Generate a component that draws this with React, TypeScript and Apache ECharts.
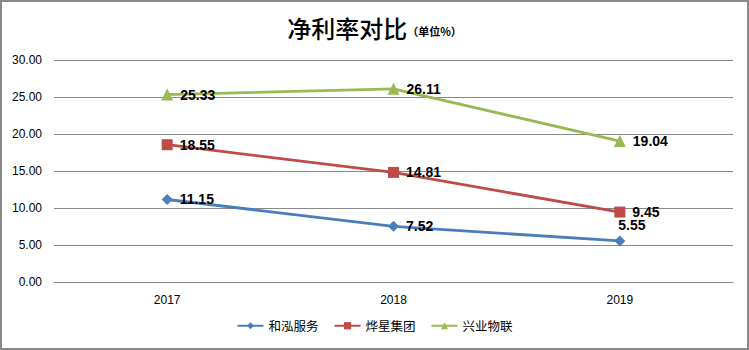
import React, { useEffect, useRef } from "react";
import * as echarts from "echarts";

const categories = ["2017", "2018", "2019"];
const seriesNames = ["和泓服务", "烨星集团", "兴业物联"];
const heHong = [11.15, 7.52, 5.55];
const yeXing = [18.55, 14.81, 9.45];
const xingYe = [25.33, 26.11, 19.04];
const yTicks = [0, 5, 10, 15, 20, 25, 30];

export default function App() {
  const ref = useRef<HTMLDivElement>(null);
  useEffect(() => {
    document.body.style.margin = "0";
    const chart = echarts.init(ref.current!, undefined, { renderer: "svg" });
    const labelBase = {
      show: true,
      position: "right" as const,
      distance: 7,
      color: "#000",
      fontWeight: "bold" as const,
      fontSize: 14,
      fontFamily: "Liberation Sans, Arial, sans-serif",
      formatter: (p: any) => (typeof p.value === "number" ? p.value : Number(p.value)).toFixed(2),
    };
    chart.setOption({
      animation: false,
      backgroundColor: "#fff",
      title: {
        text: "{a|净利率对比}{b|（单位%）}",
        left: "center",
        top: 8,
        textStyle: {
          rich: {
            a: { fontSize: 24, color: "#000", fontFamily: "Noto Sans CJK SC", fontWeight: 500 },
            b: { fontSize: 11, color: "#000", fontFamily: "Noto Sans CJK SC", fontWeight: "bold", padding: [8, 0, 0, 0] },
          },
        },
      },
      legend: {
        bottom: 11,
        left: "center",
        itemWidth: 26,
        itemHeight: 9,
        itemGap: 15,
        textStyle: { fontSize: 12.5, color: "#000", fontFamily: "Noto Sans CJK SC" },
        data: seriesNames,
      },
      grid: { left: 52, right: 14, top: 58, bottom: 66, containLabel: false },
      xAxis: {
        type: "category",
        data: categories,
        axisLine: { show: true, lineStyle: { color: "#888" } },
        axisTick: { show: false },
        axisLabel: { color: "#000", fontSize: 12, margin: 12, fontFamily: "Liberation Sans, Arial, sans-serif" },
      },
      yAxis: {
        type: "value",
        min: yTicks[0],
        max: yTicks[yTicks.length - 1],
        interval: 5,
        axisLine: { show: false },
        axisTick: { show: false },
        axisLabel: {
          color: "#000",
          fontSize: 12,
          margin: 12,
          fontFamily: "Liberation Sans, Arial, sans-serif",
          formatter: (v: number) => v.toFixed(2),
        },
        splitLine: { lineStyle: { color: "#888", width: 1 } },
      },
      series: [
        {
          name: seriesNames[0],
          type: "line",
          data: heHong.map((v, i) =>
            i === 2 ? { value: v, label: { position: "top", distance: 3, offset: [12, 0] } } : v
          ),
          color: "#4A7EBB",
          symbol: "diamond",
          symbolSize: 11,
          lineStyle: { width: 2.8 },
          label: labelBase,
        },
        {
          name: seriesNames[1],
          type: "line",
          data: yeXing,
          color: "#BE4B48",
          symbol: "rect",
          symbolSize: 11,
          lineStyle: { width: 2.8 },
          label: labelBase,
        },
        {
          name: seriesNames[2],
          type: "line",
          data: xingYe,
          color: "#98B954",
          symbol: "triangle",
          symbolSize: 12,
          lineStyle: { width: 2.8 },
          label: labelBase,
        },
      ],
    });
    return () => chart.dispose();
  }, []);
  return (
    <div
      ref={ref}
      style={{ width: 749, height: 350, boxSizing: "border-box", border: "2px solid #888" }}
    />
  );
}
